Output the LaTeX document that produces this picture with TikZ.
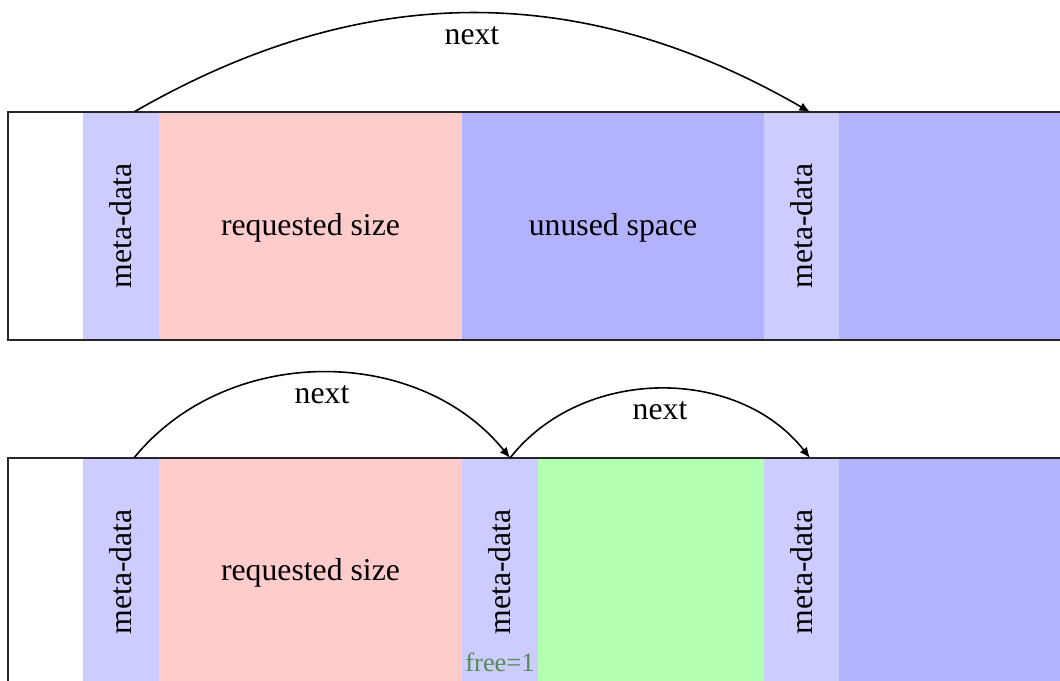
\documentclass[tikz,border=0pt]{standalone}
\usepackage{fontspec}
\setmainfont{Liberation Serif}
\usetikzlibrary{arrows.meta}
\definecolor{freegreen}{RGB}{85,140,85}
\begin{document}
\begin{tikzpicture}[x=0.378pt,y=-0.378pt,
  every node/.style={font=\fontsize{12pt}{14pt}\selectfont},
  cell/.style={inner sep=0pt, outer sep=0pt, anchor=north west, minimum height=86.18pt},
  meta/.style={cell, fill=blue!20, minimum width=28.73pt},
  req/.style={cell, fill=red!20, minimum width=114.53pt},
  unused/.style={cell, fill=blue!30},
  freecell/.style={cell, fill=green!30, minimum width=85.43pt},
  bar/.style={line width=0.8pt, draw=black!85},
  link/.style={line width=0.6pt, -{Latex[length=4pt,width=3.4pt]}},
  vtext/.style={rotate=90},
  lbl/.style={below, yshift=-1.3pt},
]
\useasboundingbox (0,0) rectangle (1060,681);
\clip (0,0) rectangle (1060,681);

% top bar
\node[meta] (m1) at (83,112) {};
\node[req] (r1) at (159,112) {};
\node[unused, minimum width=114.16pt] (u1) at (462,112) {};
\node[meta, minimum width=28.35pt] (m2) at (764,112) {};
\node[unused, minimum width=87.3pt] (t1) at (839,112) {};
\draw[bar] (8,112) rectangle (1075,340);
\node[vtext] (m1t) at (m1.center) {meta-data};
\node (r1t) at ([yshift=-0.6pt]r1.center) {requested size};
\node (u1t) at ([yshift=-0.6pt]u1.center) {unused space};
\node[vtext] (m2t) at (m2.center) {meta-data};

\draw[link] ([xshift=4.9pt]m1.north) to[bend left=30] node[lbl] (n1) {next} ([xshift=3.2pt]m2.north);

% bottom bar
\node[meta] (m3) at (83,458) {};
\node[req] (r3) at (159,458) {};
\node[meta] (m4) at (462,458) {};
\node[freecell] (f4) at (538,458) {};
\node[meta, minimum width=28.35pt] (m5) at (764,458) {};
\node[unused, minimum width=87.3pt] (t5) at (839,458) {};
\draw[bar] (8,458) rectangle (1075,700);
\node[vtext] (m3t) at (m3.center) {meta-data};
\node (r3t) at ([yshift=-0.2pt]r3.center) {requested size};
\node[vtext] (m4t) at (m4.center) {meta-data};
\node[vtext] (m5t) at (m5.center) {meta-data};
\node[text=freegreen, font=\fontsize{10pt}{12pt}\selectfont] (free) at (500,662) {free=1};

\draw[link] ([xshift=4.9pt]m3.north) to[bend left=51] node[lbl] (n2) {next} ([xshift=3.8pt]m4.north);
\draw[link] ([xshift=3.8pt]m4.north) to[bend left=52] node[lbl] (n3) {next} ([xshift=3.2pt]m5.north);
\end{tikzpicture}
\end{document}
